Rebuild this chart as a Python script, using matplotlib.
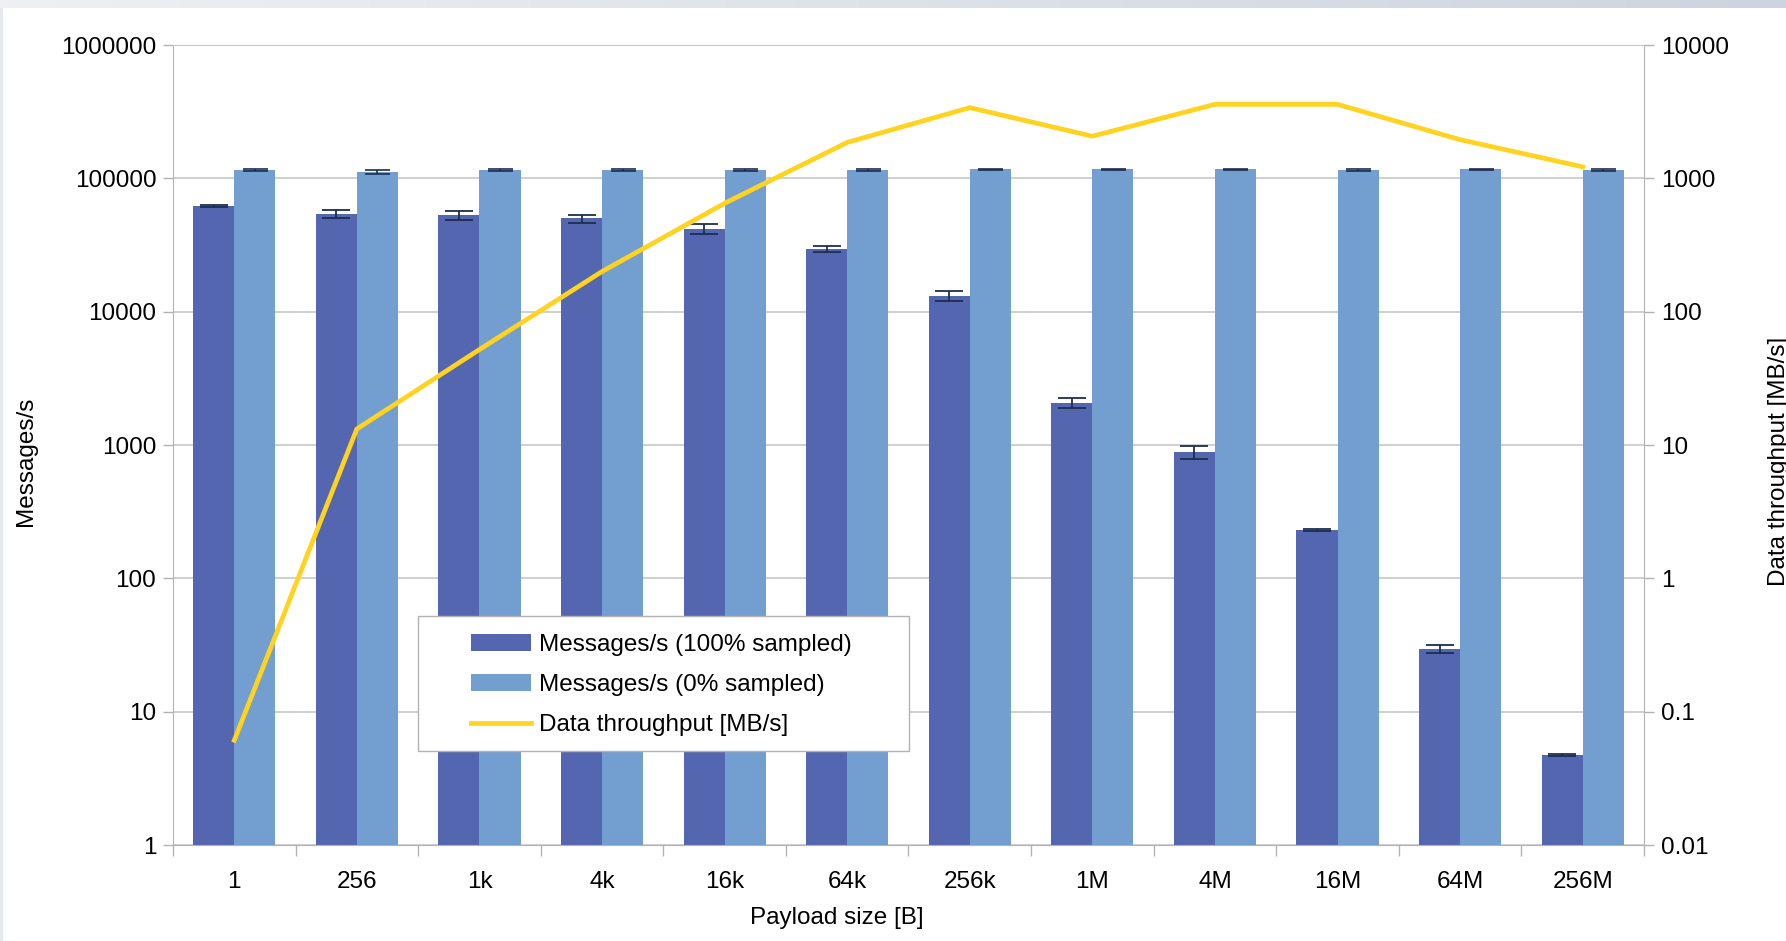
import numpy as np
import matplotlib.pyplot as plt
from matplotlib.patches import Rectangle

plt.rcParams['font.family'] = ['Liberation Sans', 'DejaVu Sans']

# Payload sizes and measured rates
payloads = ['1', '256', '1k', '4k', '16k', '64k', '256k', '1M', '4M', '16M', '64M', '256M']
msgs_full = [62000, 54000, 53000, 50000, 42000, 29500, 13200, 2070, 890, 229, 29.5, 4.73]
msgs_full_err = [1000, 4000, 4000, 3500, 3800, 1500, 1100, 190, 100, 4, 2, 0.1]
msgs_none = [115000, 112000, 115500, 115500, 115500, 115000, 117000, 117000, 116500, 115500, 117000, 115000]
msgs_none_err = [1500, 4000, 1500, 1500, 1500, 1500, 1500, 1500, 1500, 1500, 1500, 1500]
throughput = [0.061, 13.2, 52, 200, 650, 1860, 3390, 2070, 3590, 3590, 1950, 1220]

left_ticks = [1, 10, 100, 1000, 10000, 100000, 1000000]
right_ticks = [0.01, 0.1, 1, 10, 100, 1000, 10000]

c_dark = '#5566b0'
c_light = '#729fcf'
c_line = '#ffd320'
c_err = '#1c2e4e'
c_grid = '#c8c8c8'
c_axis = '#b3b3b3'
fs = 17.5

fig = plt.figure(figsize=(17.86, 9.41), dpi=100)
fig.patch.set_facecolor('white')

# window chrome: grey gradient band at top and thin strip on left
band = fig.add_axes([0, 1 - 8 / 941, 1, 8 / 941])
grad = np.linspace(0, 1, 256).reshape(1, -1)
band.imshow(grad, aspect='auto', cmap=plt.matplotlib.colors.LinearSegmentedColormap.from_list(
    'g', ['#eef0f3', '#ccd5df']))
band.axis('off')
strip = fig.add_axes([0, 0, 3 / 1786, 1 - 8 / 941])
strip.set_facecolor('#e6eaee')
strip.set_xticks([])
strip.set_yticks([])
for s in strip.spines.values():
    s.set_visible(False)

ax = fig.add_axes([173 / 1786, 1 - 845 / 941, 1471 / 1786, 800 / 941])
x = np.arange(len(payloads))
w = 0.335

ax.bar(x - w / 2, msgs_full, w, color=c_dark, label='Messages/s (100% sampled)', zorder=2)
ax.bar(x + w / 2, msgs_none, w, color=c_light, label='Messages/s (0% sampled)', zorder=2)
ax.errorbar(x - w / 2, msgs_full, yerr=msgs_full_err, fmt='none', ecolor=c_err,
            elinewidth=1.3, capsize=10, capthick=1.3, zorder=3)
ax.errorbar(x + w / 2, msgs_none, yerr=msgs_none_err, fmt='none', ecolor=c_err,
            elinewidth=1.2, capsize=9, capthick=1.2, zorder=3)

ax.set_yscale('log')
ax.set_ylim(1, 1e6)
ax.set_xlim(-0.5, len(payloads) - 0.5)
ax.set_yticks(left_ticks)
ax.set_yticklabels([str(v) for v in left_ticks])
ax.yaxis.set_minor_locator(plt.NullLocator())
ax.set_xticks(x)
ax.set_xticklabels(payloads)
ax.set_xticks(np.arange(len(payloads) + 1) - 0.5, minor=True)
ax.tick_params(axis='x', which='major', length=0, pad=19, labelsize=fs)
ax.tick_params(axis='x', which='minor', length=8, color=c_axis, width=1)
ax.tick_params(axis='y', which='major', length=7, color=c_axis, width=1, pad=5, labelsize=fs)
ax.yaxis.grid(True, color=c_grid, linewidth=1.2)
ax.set_axisbelow(True)
for s in ['left', 'bottom', 'right']:
    ax.spines[s].set_color(c_axis)
ax.spines['top'].set_color(c_grid)

ax.set_ylabel('Messages/s', fontsize=fs)
ax.yaxis.set_label_coords(-0.0925, 0.48)
ax.set_xlabel('Payload size [B]', fontsize=fs)
ax.xaxis.set_label_coords(0.451, -0.0775)

ax2 = ax.twinx()
ax2.plot(x, throughput, color=c_line, linewidth=3.4, label='Data throughput [MB/s]',
         solid_joinstyle='miter')
ax2.set_yscale('log')
ax2.set_ylim(0.01, 1e4)
ax2.set_yticks(right_ticks)
ax2.set_yticklabels(['0.01', '0.1', '1', '10', '100', '1000', '10000'])
ax2.yaxis.set_minor_locator(plt.NullLocator())
ax2.tick_params(axis='y', which='major', length=7, color=c_axis, width=1, pad=5, labelsize=fs)
for s in ax2.spines.values():
    s.set_visible(False)
ax2.set_ylabel('Data throughput [MB/s]', fontsize=fs)
ax2.yaxis.set_label_coords(1.084, 0.48)

# legend with its own frame
ax2.add_patch(Rectangle((0.1666, 0.1175), 0.3338, 0.1685, transform=ax2.transAxes,
                        facecolor='white', edgecolor=c_axis, linewidth=1, zorder=10))
h1, l1 = ax.get_legend_handles_labels()
h2, l2 = ax2.get_legend_handles_labels()
leg = ax2.legend(h1 + h2, l1 + l2, loc='center left', bbox_to_anchor=(0.2028, 0.2),
                 frameon=False, fontsize=fs, borderpad=0, borderaxespad=0,
                 handlelength=2.45, handletextpad=0.33, labelspacing=0.75)
leg.set_zorder(11)

fig.savefig('out.png', dpi=100)
